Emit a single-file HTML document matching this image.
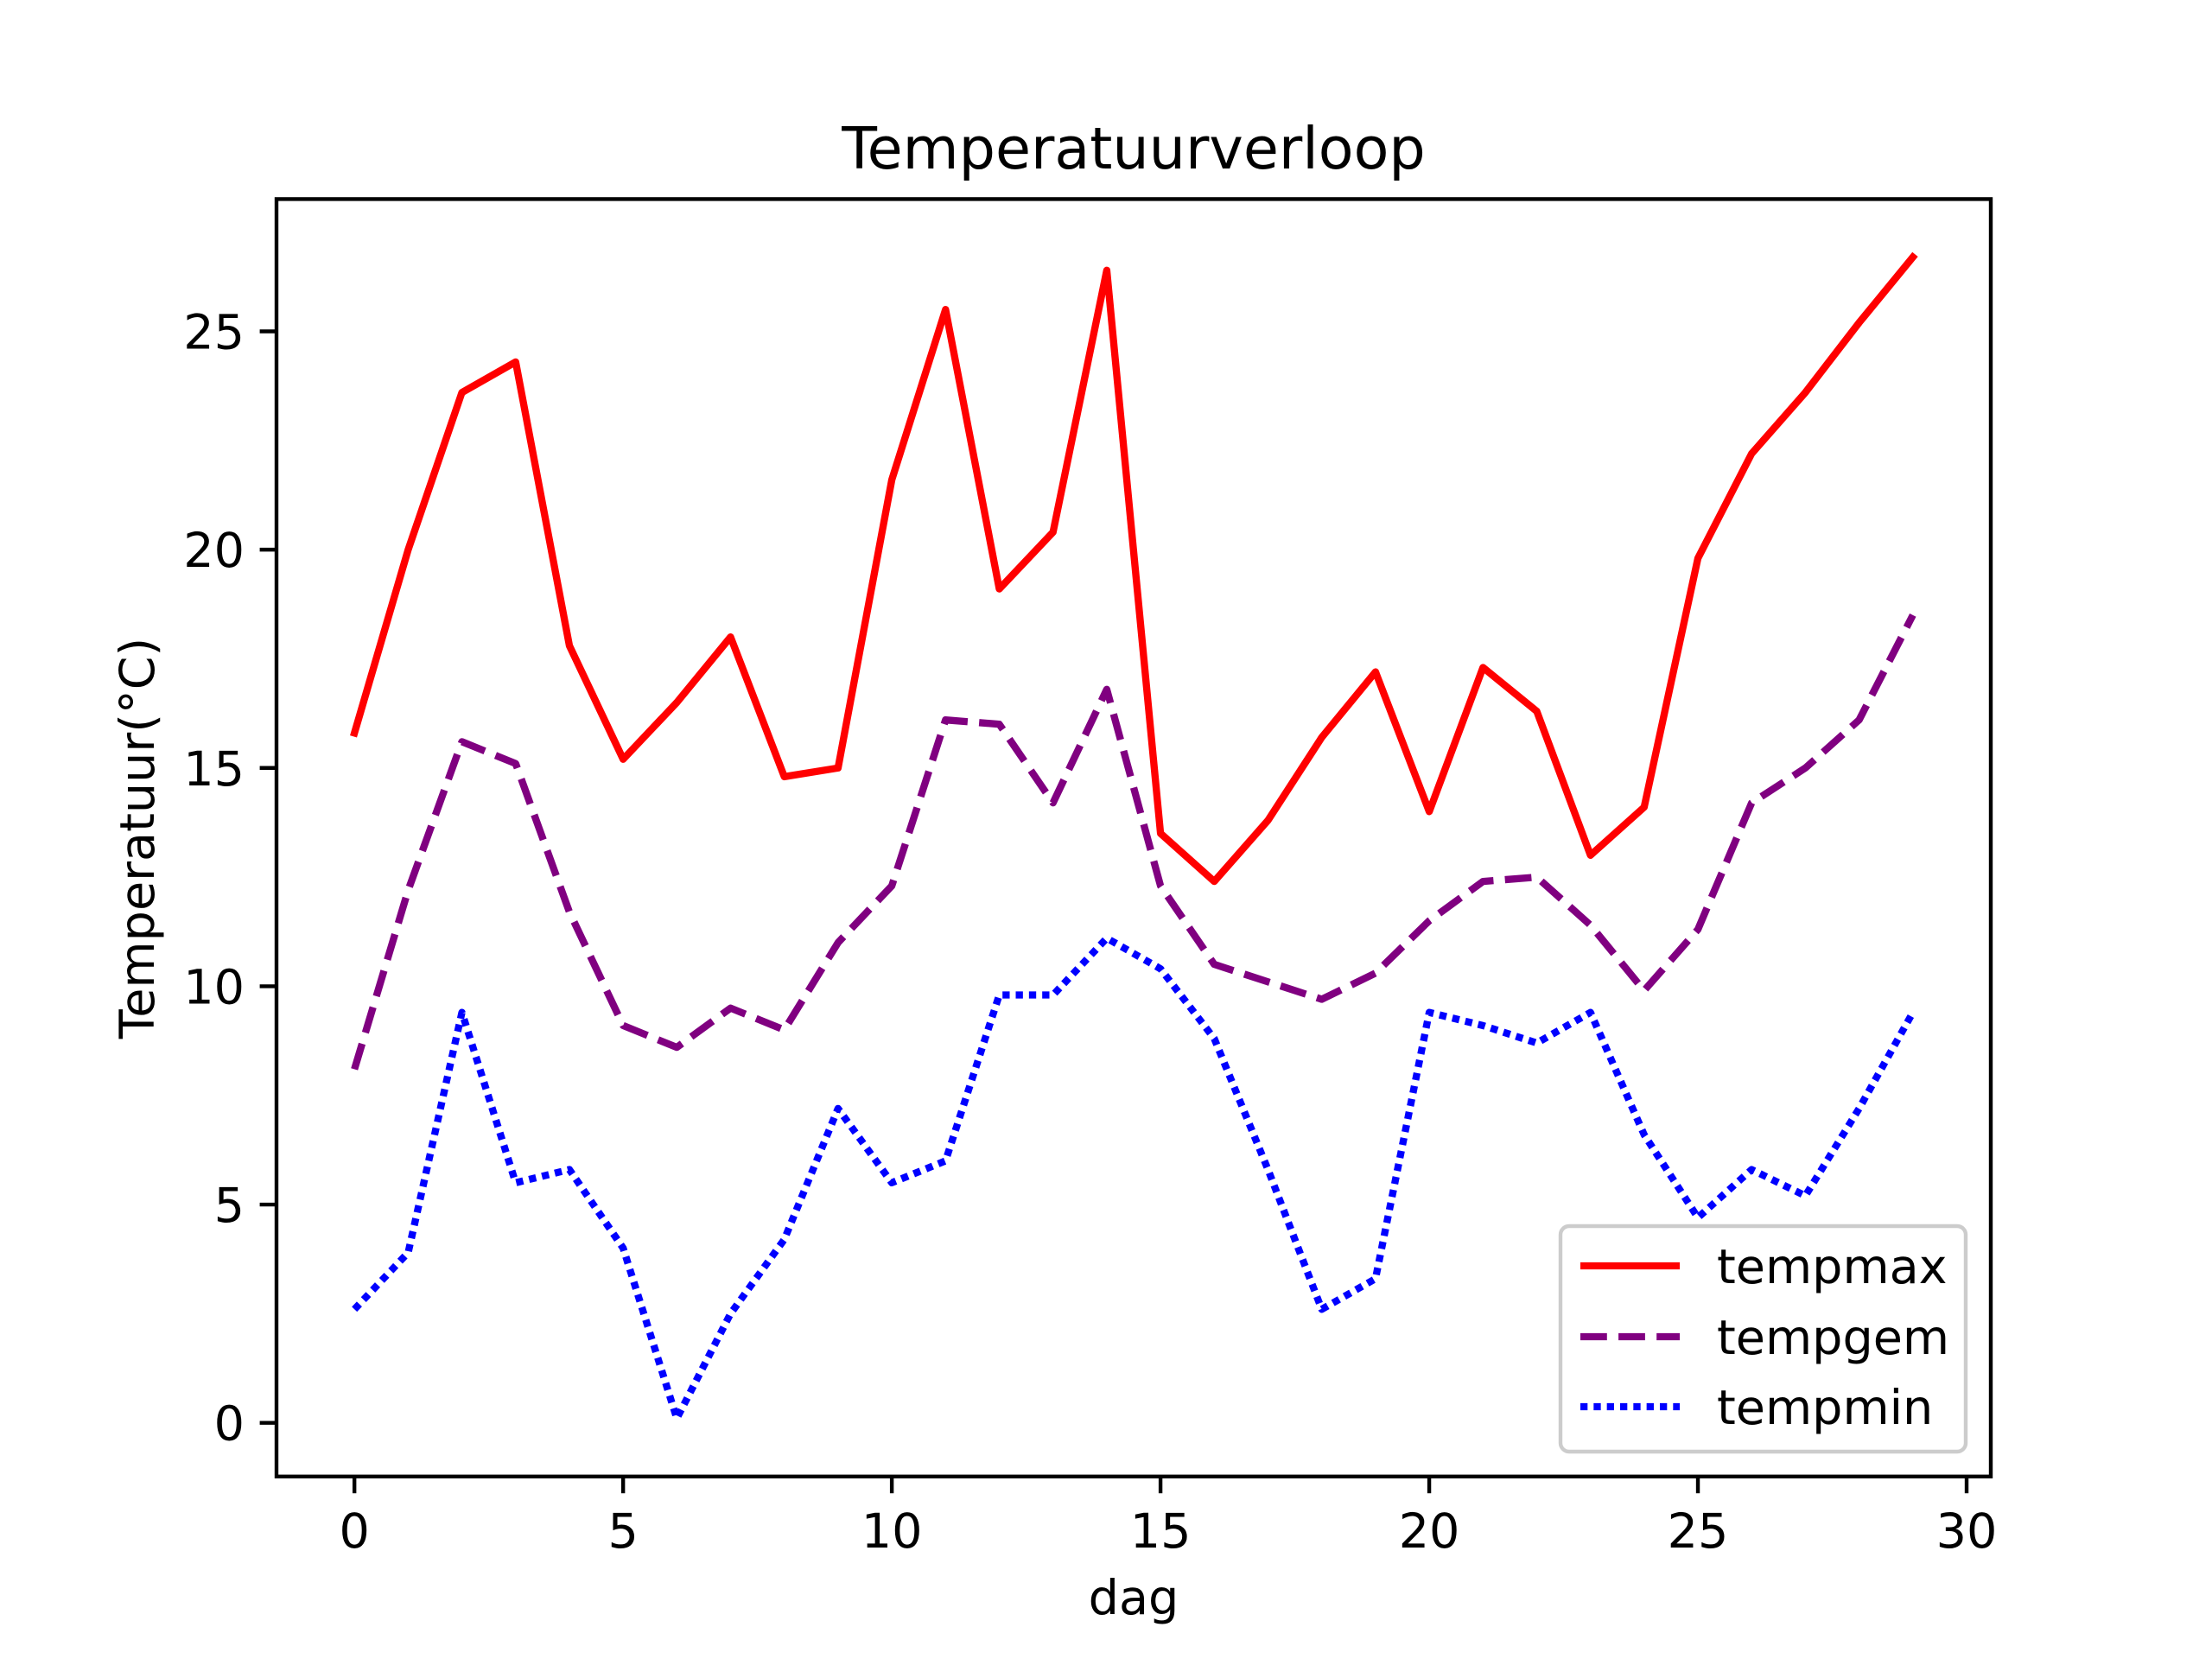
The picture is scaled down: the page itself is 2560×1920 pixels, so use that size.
<!DOCTYPE html>
<html><head><meta charset="utf-8"><style>
html,body{margin:0;padding:0;background:#fff;}
svg{display:block;font-family:"DejaVu Sans","Liberation Sans",sans-serif;}
</style></head><body>
<svg id="s" xmlns="http://www.w3.org/2000/svg" width="2560" height="1920" viewBox="0 0 2560 1920">
<rect width="2560" height="1920" fill="#fff"/>
<g id="g"></g>
</svg>
<script>
var L=320,R=2304,T=230.4,B=1708.8,x0=-1.45,x1=30.45,y0=-1.23,y1=28.03;
function X(x){return L+(x-x0)/(x1-x0)*(R-L);}
function Y(y){return B-(y-y0)/(y1-y0)*(B-T);}
var mx=[15.8,20.0,23.6,24.3,17.8,15.2,16.5,18.0,14.8,15.0,21.6,25.5,19.1,20.4,26.4,13.5,12.4,13.8,15.7,17.2,14.0,17.3,16.3,13.0,14.1,19.8,22.2,23.6,25.2,26.7];
var gm=[8.1,12.2,15.6,15.1,11.7,9.1,8.6,9.5,9.0,11.0,12.3,16.1,16.0,14.2,16.8,12.3,10.5,10.1,9.7,10.3,11.5,12.4,12.5,11.4,9.9,11.3,14.2,15.0,16.1,18.5];
var mn=[2.6,3.9,9.4,5.5,5.8,4.0,0.1,2.5,4.2,7.2,5.5,6.0,9.8,9.8,11.1,10.4,8.8,5.8,2.6,3.3,9.4,9.1,8.7,9.4,6.6,4.7,5.8,5.2,7.2,9.4];
var DOT='8.33 7';
var h='';
function path(d,col,dash,cap){var p=d.map(function(v,i){return (i?'L':'M')+X(i).toFixed(1)+' '+Y(v).toFixed(1);}).join(' ');
h+='<path d="'+p+'" fill="none" stroke="'+col+'" stroke-width="8.33" stroke-linejoin="round" stroke-linecap="'+cap+'"'+(dash?' stroke-dasharray="'+dash+'"':'')+'/>';}
path(mx,'#ff0000','','square');
path(gm,'#800080','30.8 13.3','butt');
path(mn,'#0000ff',DOT,'butt');
h+='<rect x="'+L+'" y="'+T+'" width="'+(R-L)+'" height="'+(B-T)+'" fill="none" stroke="#000" stroke-width="4.4"/>';
for(var t=0;t<=30;t+=5){var x=X(t);h+='<line x1="'+x+'" y1="'+B+'" x2="'+x+'" y2="'+(B+19.4)+'" stroke="#000" stroke-width="4.4"/>';
h+='<text x="'+x+'" y="1791" font-size="55.6" text-anchor="middle">'+t+'</text>';}
for(var t=0;t<=25;t+=5){var y=Y(t);h+='<line x1="'+L+'" y1="'+y+'" x2="'+(L-19.4)+'" y2="'+y+'" stroke="#000" stroke-width="4.4"/>';
h+='<text x="283" y="'+(y+20)+'" font-size="55.6" text-anchor="end">'+t+'</text>';}
h+='<text x="1312" y="195" font-size="66.7" text-anchor="middle">Temperatuurverloop</text>';
h+='<text x="1312" y="1868" font-size="55.6" text-anchor="middle">dag</text>';
h+='<text transform="translate(178,970) rotate(-90)" font-size="55.6" text-anchor="middle">Temperatuur(°C)</text>';
h+='<rect x="1806" y="1419" width="469" height="261" rx="10" fill="#fff" fill-opacity="0.8" stroke="#ccc" stroke-width="4.4"/>';
var ly=[1465,1547,1628],cols=['#ff0000','#800080','#0000ff'],ds=['','30.8 13.3',DOT],nm=['tempmax','tempgem','tempmin'];
for(var i=0;i<3;i++){h+='<line x1="1829" y1="'+ly[i]+'" x2="1944" y2="'+ly[i]+'" stroke="'+cols[i]+'" stroke-width="8.33"'+(ds[i]?' stroke-dasharray="'+ds[i]+'"':'')+'/>';
h+='<text x="1987" y="'+(ly[i]+20)+'" font-size="55.6">'+nm[i]+'</text>';}
document.getElementById('g').innerHTML=h;
</script>
</body></html>
